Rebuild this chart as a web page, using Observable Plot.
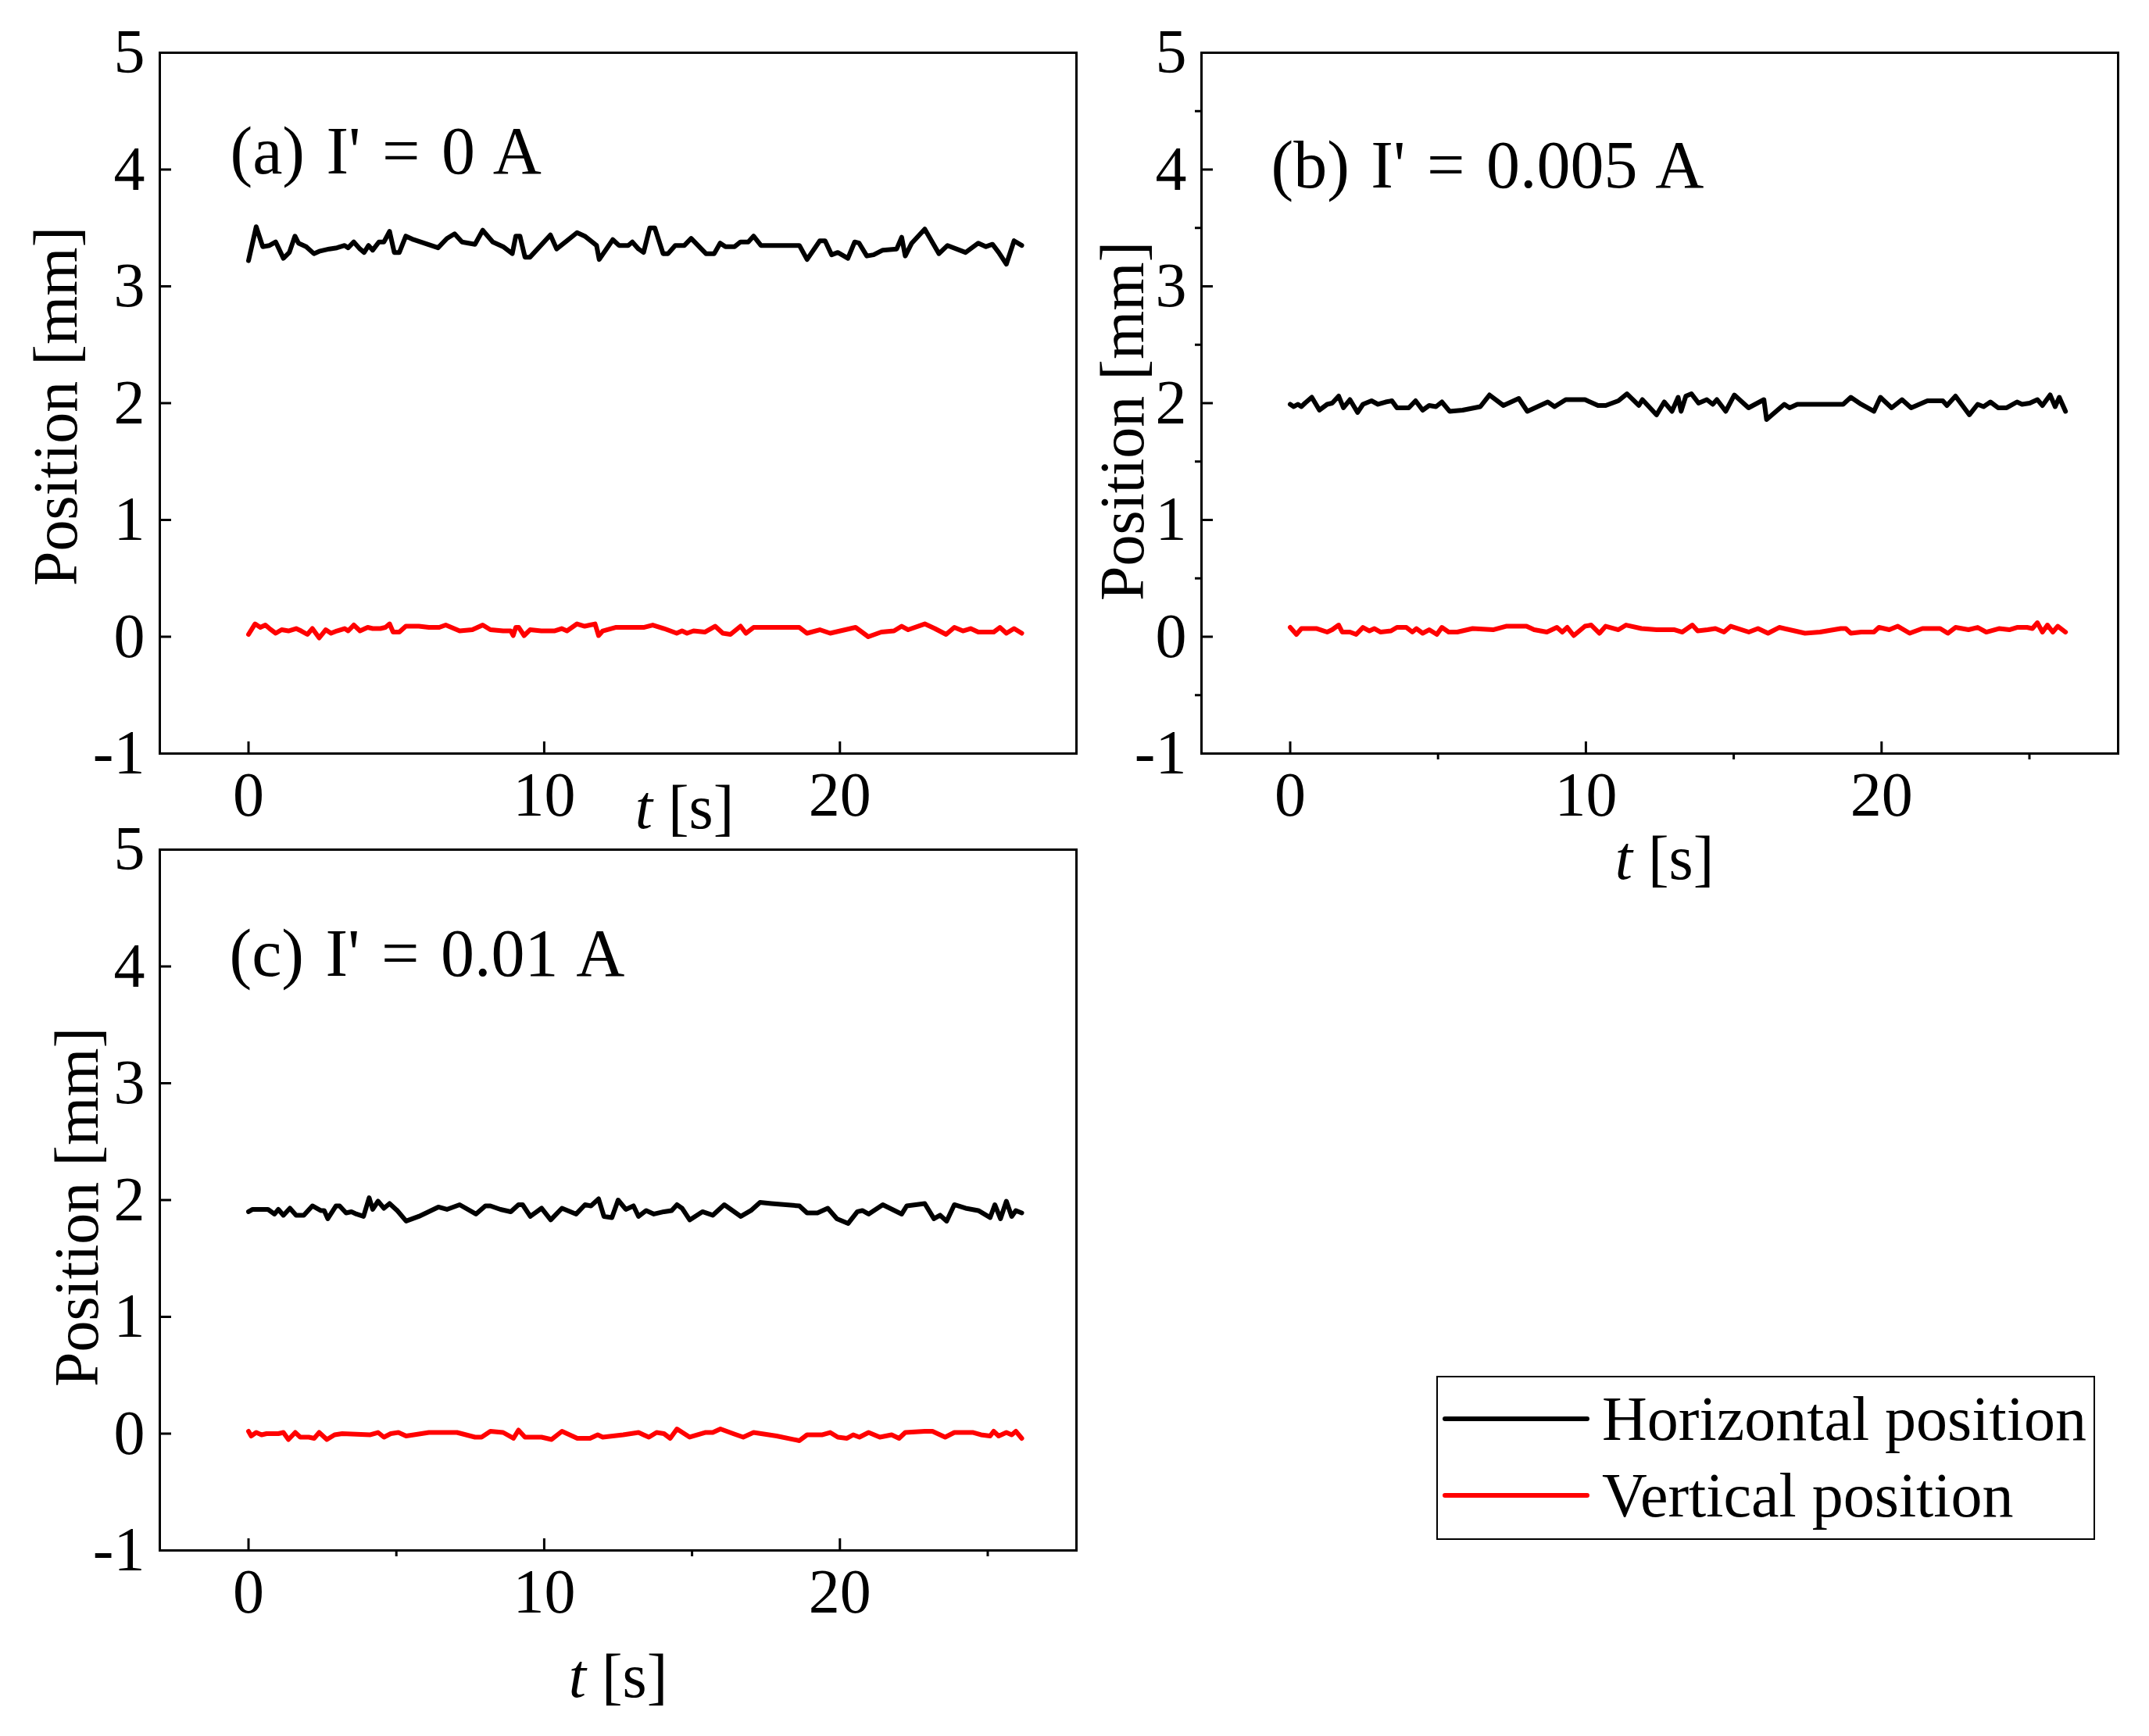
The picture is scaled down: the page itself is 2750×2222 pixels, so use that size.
<!DOCTYPE html>
<html>
<head>
<meta charset="utf-8">
<script src="https://cdn.jsdelivr.net/npm/d3@7"></script>
<script src="https://cdn.jsdelivr.net/npm/@observablehq/plot@0.6"></script>
<style>
  html, body { margin: 0; padding: 0; background: #ffffff; }
  #page { position: relative; width: 2750px; height: 2222px; background: #ffffff; overflow: hidden; }
  .pnl { position: absolute; }
  .pnl svg { overflow: visible; max-width: none; }
</style>
</head>
<body>
<div id="page"></div>
<script>
// ---------- data ----------
const seriesNames = ["Horizontal position", "Vertical position"];
const seriesColors = ["#000000", "#ff0000"];
const panelTitles = ["(a) I' = 0 A", "(b) I' = 0.005 A", "(c) I' = 0.01 A"];
const xLabel = "t [s]";
const yLabel = "Position [mm]";
const xDomain = [-3, 28];
const yDomain = [-1, 5];
const xMajor = [0, 10, 20];
const xMinor = [5, 15, 25];
const yMajor = [-1, 0, 1, 2, 3, 4, 5];
const yMinor = [-0.5, 0.5, 1.5, 2.5, 3.5, 4.5];

// (a) I' = 0 A
const tA_h = [0.00,0.26,0.48,0.71,0.92,1.18,1.38,1.57,1.69,1.95,2.21,2.39,2.73,2.99,3.25,3.37,3.56,3.77,3.91,4.06,4.20,4.41,4.58,4.77,4.93,5.10,5.32,5.58,6.41,6.71,6.97,7.22,7.66,7.92,8.26,8.61,8.92,9.04,9.18,9.35,9.52,10.21,10.42,10.77,11.11,11.37,11.77,11.86,12.32,12.53,12.84,12.98,13.19,13.36,13.57,13.74,14.02,14.19,14.43,14.74,14.97,15.47,15.75,15.95,16.13,16.44,16.64,16.90,17.08,17.33,18.63,18.89,19.32,19.50,19.72,19.93,20.27,20.50,20.65,20.91,21.14,21.45,21.92,22.09,22.21,22.43,22.87,23.35,23.64,24.25,24.68,24.94,25.16,25.37,25.63,25.89,26.15];
const yA_h = [3.22,3.51,3.34,3.35,3.38,3.24,3.29,3.43,3.37,3.34,3.28,3.30,3.32,3.33,3.35,3.33,3.38,3.32,3.29,3.35,3.31,3.38,3.38,3.47,3.29,3.29,3.43,3.40,3.33,3.41,3.45,3.38,3.36,3.48,3.38,3.34,3.28,3.43,3.43,3.25,3.25,3.44,3.32,3.39,3.46,3.43,3.35,3.23,3.40,3.35,3.35,3.38,3.32,3.29,3.50,3.50,3.28,3.28,3.35,3.35,3.41,3.28,3.28,3.37,3.34,3.34,3.38,3.38,3.43,3.35,3.35,3.23,3.39,3.39,3.27,3.29,3.24,3.38,3.37,3.26,3.27,3.31,3.32,3.42,3.26,3.37,3.49,3.28,3.35,3.29,3.37,3.34,3.36,3.29,3.19,3.39,3.35];
const tA_v = [0.00,0.22,0.40,0.57,0.71,0.92,1.12,1.35,1.61,1.78,1.99,2.16,2.39,2.61,2.79,2.99,3.25,3.37,3.56,3.77,4.03,4.20,4.46,4.63,4.77,4.89,5.10,5.32,5.76,6.10,6.45,6.67,7.14,7.57,7.92,8.18,8.61,8.87,8.95,9.04,9.14,9.32,9.52,9.90,10.34,10.59,10.77,11.11,11.37,11.55,11.72,11.84,11.98,12.41,13.36,13.67,14.05,14.48,14.66,14.83,15.05,15.43,15.78,16.04,16.30,16.64,16.82,17.08,18.63,18.89,19.32,19.67,20.53,20.96,21.40,21.83,22.09,22.31,22.87,23.21,23.59,23.87,24.16,24.42,24.68,25.20,25.41,25.63,25.89,26.15];
const yA_v = [0.02,0.11,0.08,0.10,0.07,0.03,0.06,0.05,0.07,0.05,0.02,0.07,-0.01,0.06,0.03,0.05,0.07,0.05,0.10,0.05,0.08,0.07,0.07,0.08,0.11,0.04,0.04,0.09,0.09,0.08,0.08,0.10,0.05,0.06,0.10,0.06,0.05,0.05,0.01,0.08,0.08,0.01,0.06,0.05,0.05,0.07,0.05,0.11,0.09,0.10,0.11,0.01,0.05,0.08,0.08,0.10,0.07,0.03,0.05,0.03,0.05,0.04,0.09,0.03,0.02,0.09,0.03,0.08,0.08,0.03,0.06,0.03,0.08,0.00,0.04,0.05,0.09,0.06,0.11,0.07,0.02,0.08,0.05,0.07,0.04,0.04,0.08,0.03,0.07,0.03];

// (b) I' = 0.005 A
const tB_h = [0.00,0.12,0.26,0.38,0.50,0.73,0.99,1.25,1.42,1.64,1.80,2.02,2.28,2.46,2.75,2.97,3.23,3.44,3.61,4.01,4.24,4.48,4.70,4.93,5.13,5.39,5.83,6.43,6.74,7.21,7.73,8.02,8.71,8.94,9.32,9.97,10.41,10.67,11.10,11.39,11.79,11.91,12.39,12.65,12.91,13.12,13.22,13.38,13.57,13.81,14.09,14.29,14.43,14.73,15.02,15.50,16.02,16.11,16.71,16.89,17.15,17.92,18.70,18.96,19.31,19.74,19.96,20.34,20.69,21.00,21.55,22.07,22.21,22.50,22.97,23.25,23.45,23.68,23.94,24.23,24.58,24.75,25.01,25.27,25.44,25.70,25.87,26.01,26.22];
const yB_h = [1.99,1.97,1.99,1.97,2.00,2.05,1.94,1.99,2.00,2.06,1.96,2.03,1.92,1.99,2.02,1.99,2.01,2.02,1.96,1.96,2.02,1.94,1.98,1.97,2.01,1.93,1.94,1.97,2.07,1.98,2.04,1.93,2.01,1.97,2.03,2.03,1.98,1.98,2.02,2.08,1.98,2.03,1.90,2.01,1.93,2.05,1.93,2.06,2.08,2.00,2.03,1.99,2.03,1.93,2.07,1.96,2.03,1.86,1.99,1.96,1.99,1.99,1.99,2.05,1.99,1.93,2.05,1.96,2.03,1.96,2.02,2.02,1.98,2.06,1.90,1.99,1.97,2.01,1.96,1.96,2.01,1.99,2.00,2.03,1.98,2.07,1.97,2.05,1.93];
const tB_v = [0.00,0.21,0.38,0.90,1.25,1.42,1.64,1.76,2.02,2.23,2.46,2.68,2.85,3.06,3.41,3.61,3.93,4.13,4.27,4.48,4.70,4.96,5.13,5.36,5.65,6.17,6.86,7.30,7.99,8.25,8.68,9.02,9.20,9.37,9.59,9.97,10.18,10.46,10.67,11.10,11.36,11.88,12.39,13.00,13.26,13.60,13.78,14.12,14.38,14.67,14.90,15.51,15.82,16.16,16.54,17.06,17.41,17.92,18.62,18.79,18.96,19.31,19.74,19.91,20.26,20.55,20.95,21.38,21.98,22.24,22.50,22.94,23.25,23.54,23.97,24.32,24.58,24.92,25.10,25.27,25.44,25.61,25.79,25.96,26.22];
const yB_v = [0.08,0.02,0.07,0.07,0.04,0.06,0.10,0.04,0.04,0.02,0.08,0.05,0.07,0.04,0.05,0.08,0.08,0.04,0.07,0.03,0.06,0.02,0.08,0.04,0.04,0.07,0.06,0.09,0.09,0.06,0.04,0.08,0.04,0.08,0.01,0.09,0.10,0.03,0.09,0.06,0.10,0.07,0.06,0.06,0.04,0.10,0.05,0.06,0.07,0.04,0.09,0.04,0.07,0.03,0.08,0.05,0.03,0.04,0.07,0.07,0.03,0.04,0.04,0.08,0.06,0.09,0.03,0.07,0.07,0.03,0.08,0.06,0.08,0.04,0.07,0.06,0.08,0.08,0.07,0.12,0.04,0.10,0.04,0.09,0.04];

// (c) I' = 0.01 A
const tC_h = [0.00,0.14,0.40,0.66,0.88,1.01,1.18,1.40,1.61,1.87,2.16,2.44,2.56,2.68,2.96,3.08,3.30,3.48,3.65,3.89,4.08,4.20,4.38,4.58,4.77,5.03,5.33,5.76,6.42,6.71,7.14,7.69,8.01,8.18,8.52,8.87,9.13,9.27,9.53,9.91,10.22,10.60,11.08,11.38,11.58,11.84,12.02,12.29,12.50,12.76,13.02,13.19,13.45,13.71,14.05,14.31,14.49,14.66,14.92,15.35,15.70,16.09,16.65,16.99,17.30,17.68,18.63,18.89,19.24,19.59,19.90,20.28,20.59,20.76,20.97,21.45,22.09,22.26,22.87,23.18,23.39,23.61,23.87,24.25,24.68,25.08,25.24,25.43,25.63,25.81,25.95,26.15];
const yC_h = [1.90,1.92,1.92,1.92,1.88,1.92,1.87,1.93,1.87,1.87,1.95,1.91,1.91,1.84,1.95,1.95,1.89,1.90,1.88,1.86,2.02,1.92,1.99,1.93,1.97,1.91,1.82,1.86,1.94,1.92,1.96,1.88,1.95,1.95,1.92,1.90,1.96,1.96,1.86,1.93,1.83,1.93,1.88,1.96,1.95,2.01,1.86,1.85,2.00,1.92,1.95,1.86,1.91,1.88,1.90,1.91,1.96,1.93,1.83,1.90,1.87,1.96,1.86,1.91,1.98,1.97,1.95,1.89,1.89,1.93,1.84,1.80,1.90,1.91,1.88,1.96,1.88,1.95,1.97,1.84,1.87,1.82,1.96,1.93,1.91,1.85,1.96,1.84,1.99,1.86,1.91,1.89];
const tC_v = [0.00,0.09,0.26,0.44,0.61,0.83,1.01,1.18,1.35,1.58,1.75,2.04,2.22,2.39,2.65,2.91,3.17,4.12,4.38,4.58,4.81,5.07,5.33,5.59,6.10,7.05,7.66,7.88,8.18,8.61,8.96,9.13,9.35,9.91,10.25,10.60,11.12,11.55,11.81,11.98,12.67,13.19,13.36,13.54,13.80,14.05,14.26,14.49,14.92,15.44,15.70,15.96,16.39,16.73,17.08,17.86,18.63,18.89,19.41,19.67,19.93,20.24,20.45,20.66,20.97,21.35,21.75,22.00,22.21,22.87,23.13,23.56,23.87,24.51,24.77,25.08,25.20,25.37,25.63,25.81,25.95,26.15];
const yC_v = [0.02,-0.02,0.01,-0.01,0.00,0.00,0.00,0.01,-0.05,0.01,-0.03,-0.03,-0.04,0.01,-0.05,-0.01,0.00,-0.01,0.01,-0.03,0.00,0.01,-0.02,-0.01,0.01,0.01,-0.03,-0.03,0.02,0.01,-0.04,0.03,-0.03,-0.03,-0.05,0.02,-0.04,-0.04,-0.01,-0.03,-0.01,0.01,-0.01,-0.03,0.01,0.00,-0.04,0.04,-0.03,0.01,0.01,0.04,0.00,-0.03,0.01,-0.02,-0.06,-0.01,-0.01,0.01,-0.03,-0.04,-0.01,-0.03,0.01,-0.03,-0.01,-0.04,0.01,0.02,0.02,-0.03,0.01,0.01,-0.01,-0.02,0.02,-0.02,0.01,-0.01,0.02,-0.04];

// ---------- rendering ----------
const FONT = "'Liberation Serif', 'Times New Roman', Times, serif";
const page = document.getElementById("page");

function rows(ts, vs) { return ts.map((t, i) => ({t, v: vs[i]})); }

function panel(cfg) {
  const {hT, hV, vT, vV, title, minorX, minorY, left, top, width, height,
         mt, mb, ml, mr, titleDx, titleDy, ylabDx, ylabDy, xlabDx, xlabDy} = cfg;
  const fw = width - ml - mr, fh = height - mt - mb;
  const marks = [
    Plot.line(rows(hT, hV), {x: "t", y: "v", stroke: seriesColors[0], strokeWidth: 6, strokeLinejoin: "round"}),
    Plot.line(rows(vT, vV), {x: "t", y: "v", stroke: seriesColors[1], strokeWidth: 6, strokeLinejoin: "round"}),
    Plot.frame({stroke: "black", strokeWidth: 3}),
    Plot.ruleX(xMajor, {x: d => d, insetTop: fh - 15, stroke: "black", strokeWidth: 3}),
    Plot.ruleY(yMajor, {y: d => d, insetRight: fw - 15, stroke: "black", strokeWidth: 3}),
    Plot.axisX({ticks: xMajor, tickSize: 0, tickPadding: 23, tickFormat: d => String(d), fontSize: 80, label: null}),
    Plot.axisY({ticks: yMajor, tickSize: 0, tickPadding: 19, tickFormat: d => String(d), fontSize: 80, label: null}),
    Plot.text([title], {text: d => d, frameAnchor: "top-left", textAnchor: "start", lineAnchor: "middle", dx: titleDx, dy: titleDy, fontSize: 86}),
    Plot.text([yLabel], {text: d => d, frameAnchor: "left", textAnchor: "middle", rotate: -90, lineAnchor: "middle", dx: ylabDx, dy: ylabDy, fontSize: 80}),
    Plot.text([xLabel], {text: d => d, frameAnchor: "bottom", textAnchor: "middle", lineAnchor: "middle", dx: xlabDx, dy: xlabDy, fontSize: 80})
  ];
  if (minorX) marks.push(Plot.ruleX(xMinor, {x: d => d, insetTop: fh, insetBottom: -8, stroke: "black", strokeWidth: 3}));
  if (minorY) marks.push(Plot.ruleY(yMinor, {y: d => d, insetRight: fw, insetLeft: -8, stroke: "black", strokeWidth: 3}));

  const svg = Plot.plot({
    width, height,
    marginTop: mt, marginBottom: mb, marginLeft: ml, marginRight: mr,
    x: {domain: xDomain},
    y: {domain: yDomain},
    style: {fontFamily: FONT, fontSize: "80px", color: "black", background: "none", overflow: "visible"},
    marks
  });
  const s = d3.select(svg);
  s.selectAll("text").each(function() {
    const el = d3.select(this);
    const txt = this.textContent;
    if (txt === title) el.attr("word-spacing", "6px");
    if (txt === xLabel) {
      el.text(null);
      el.append("tspan").attr("font-style", "italic").text("t");
      el.append("tspan").text(" [s]");
    }
  });
  const div = document.createElement("div");
  div.className = "pnl";
  div.style.left = left + "px";
  div.style.top = top + "px";
  div.appendChild(svg);
  page.appendChild(div);
}

panel({hT: tA_h, hV: yA_h, vT: tA_v, vV: yA_v, title: panelTitles[0], minorX: false, minorY: false,
  left: 0, top: 0, width: 1400, height: 1100, mt: 67, mb: 136, ml: 204, mr: 23,
  titleDx: 90, titleDy: 127, ylabDx: -132, ylabDy: 4, xlabDx: 85, xlabDy: 70});
panel({hT: tB_h, hV: yB_h, vT: tB_v, vV: yB_v, title: panelTitles[1], minorX: true, minorY: true,
  left: 1333, top: 0, width: 1400, height: 1160, mt: 67, mb: 196, ml: 204, mr: 23,
  titleDx: 89, titleDy: 145, ylabDx: -100, ylabDy: 23, xlabDx: 6, xlabDy: 135});
panel({hT: tC_h, hV: yC_h, vT: tC_v, vV: yC_v, title: panelTitles[2], minorX: true, minorY: false,
  left: 0, top: 1020, width: 1400, height: 1202, mt: 67, mb: 238, ml: 204, mr: 23,
  titleDx: 89, titleDy: 134, ylabDx: -105, ylabDy: 9, xlabDx: 0, xlabDy: 162});

// ---------- legend ----------
const lg = d3.create("svg").attr("width", 900).attr("height", 260)
  .style("font-family", FONT).style("overflow", "visible");
lg.append("rect").attr("x", 19).attr("y", 22).attr("width", 841).attr("height", 208)
  .attr("fill", "white").attr("stroke", "black").attr("stroke-width", 2);
const rowY = [76, 174];
seriesNames.forEach((name, i) => {
  lg.append("line").attr("x1", 29).attr("x2", 211).attr("y1", rowY[i]).attr("y2", rowY[i])
    .attr("stroke", seriesColors[i]).attr("stroke-width", 6).attr("stroke-linecap", "round");
  lg.append("text").attr("x", 230).attr("y", rowY[i] + 27).attr("font-size", 80).attr("fill", "black").text(name);
});
const ld = document.createElement("div");
ld.className = "pnl";
ld.style.left = "1820px";
ld.style.top = "1740px";
ld.appendChild(lg.node());
page.appendChild(ld);
</script>
</body>
</html>
